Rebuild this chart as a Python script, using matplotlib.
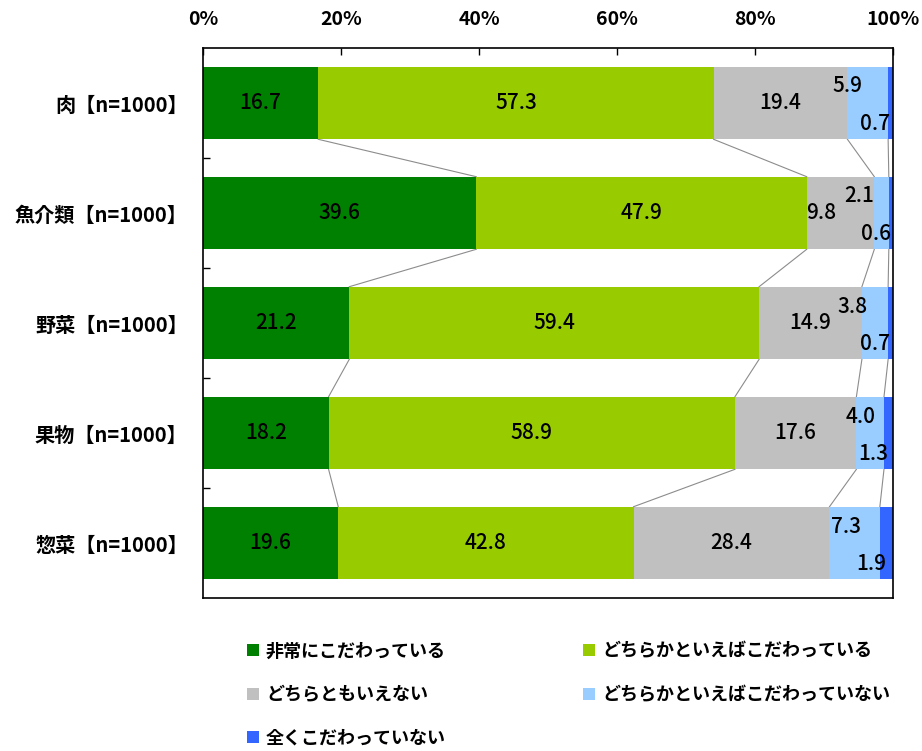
import matplotlib
matplotlib.use("Agg")
import matplotlib.pyplot as plt
import numpy as np

plt.rcParams['font.family'] = ['Noto Sans CJK JP', 'DejaVu Sans']

# データ
categories = ['肉【n=1000】', '魚介類【n=1000】', '野菜【n=1000】', '果物【n=1000】', '惣菜【n=1000】']
series_names = ['非常にこだわっている', 'どちらかといえばこだわっている', 'どちらともいえない',
                'どちらかといえばこだわっていない', '全くこだわっていない']
v_very = [16.7, 39.6, 21.2, 18.2, 19.6]
v_some = [57.3, 47.9, 59.4, 58.9, 42.8]
v_neither = [19.4, 9.8, 14.9, 17.6, 28.4]
v_notmuch = [5.9, 2.1, 3.8, 4.0, 7.3]
v_notatall = [0.7, 0.6, 0.7, 1.3, 1.9]
xticks = [0, 20, 40, 60, 80, 100]

colors = ['#008000', '#99CC00', '#C0C0C0', '#99CCFF', '#3366FF']

values = np.array([v_very, v_some, v_neither, v_notmuch, v_notatall])
n = len(categories)
y = np.arange(n)
bar_h = 0.66

fig = plt.figure(figsize=(9.22, 7.51), dpi=100)
ax = fig.add_axes([0.2202, 0.2037, 0.9685 - 0.2202, 0.9361 - 0.2037])

left = np.zeros(n)
handles = []
for k in range(5):
    b = ax.barh(y, values[k], left=left, height=bar_h, color=colors[k], label=series_names[k], zorder=2)
    handles.append(b)
    left = left + values[k]

# 区分線 (series lines)
cum = np.cumsum(values, axis=0)
for k in range(4):
    for i in range(n - 1):
        ax.plot([cum[k, i], cum[k, i + 1]], [i + bar_h / 2, i + 1 - bar_h / 2],
                color='#8c8c8c', lw=0.8, zorder=1)

# ラベル位置の微調整 (px -> %)
blue_dx = [-2.9, -3.2, -3.2, -1.4, -1.2]
gray_dx = [0, -2.8, 0, 0, 0]
lab_fs = 15
starts = cum - values
for i in range(n):
    for k in range(5):
        c = starts[k, i] + values[k, i] / 2
        dy = 0
        if k == 2:
            c += gray_dx[i]
        elif k == 3:
            c += blue_dx[i]
            dy = -0.15
        elif k == 4:
            c -= 2.2
            dy = 0.19
        ax.text(c, i + dy, f'{values[k, i]:.1f}', ha='center', va='center',
                fontsize=lab_fs, fontweight='medium', color='black', zorder=3)

ax.set_xlim(0, 100)
ax.set_ylim(n - 0.5, -0.5)
ax.xaxis.tick_top()
ax.set_xticks(xticks)
ax.set_xticklabels([f'{t}%' for t in xticks], fontsize=14, fontweight='bold')
ax.tick_params(axis='x', direction='in', length=5, pad=14, width=1)

ax.set_yticks(y)
ax.set_yticklabels(categories, fontsize=14.5, fontweight='bold')
ax.tick_params(axis='y', which='major', length=0, pad=11)
ax.set_yticks(np.arange(n - 1) + 0.5, minor=True)
ax.tick_params(axis='y', which='minor', direction='in', length=5, width=1)

for s in ax.spines.values():
    s.set_color('black')
    s.set_linewidth(1.2)

order = [0, 2, 4, 1, 3]
leg = fig.legend([handles[i] for i in order], [series_names[i] for i in order],
                 ncol=2, loc='upper left', bbox_to_anchor=(0.268, 0.146),
                 frameon=False, prop={'size': 13, 'weight': 'bold'},
                 handlelength=0.65, handleheight=0.65, handletextpad=0.4,
                 columnspacing=7.6, labelspacing=1.36, borderpad=0, borderaxespad=0)

fig.savefig('out.png', dpi=100)
